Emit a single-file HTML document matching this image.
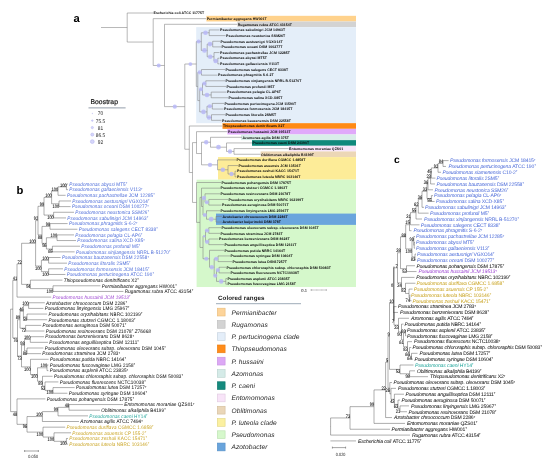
<!DOCTYPE html>
<html><head><meta charset="utf-8"><title>Phylogeny</title>
<style>html,body{margin:0;padding:0;background:#fff}svg{display:block;text-rendering:geometricPrecision;will-change:transform}</style></head><body>
<svg width="550" height="461" viewBox="0 0 550 461" font-family="Liberation Sans, sans-serif">
<rect width="550" height="461" fill="#fff"/>
<rect x="206.4" y="15.82" width="149.6" height="5.65" fill="#ffd28c"/>
<rect x="237.4" y="21.48" width="118.6" height="5.65" fill="#d3d3d3"/>
<rect x="196.2" y="27.13" width="159.8" height="96.05" fill="#e4eef9"/>
<rect x="222.5" y="123.17" width="133.5" height="5.65" fill="#ff8a14"/>
<rect x="227.4" y="128.83" width="128.6" height="5.65" fill="#e0a9fa"/>
<rect x="241" y="134.48" width="115" height="5.65" fill="#d9edea"/>
<rect x="252" y="140.13" width="104" height="5.65" fill="#10897c"/>
<rect x="288.6" y="145.78" width="67.4" height="5.65" fill="#f9e6f9"/>
<rect x="260.6" y="151.43" width="95.4" height="5.65" fill="#ecd7b6"/>
<rect x="218" y="157.08" width="138" height="22.6" fill="#fdec98"/>
<rect x="196.6" y="179.68" width="159.4" height="107.35" fill="#d5f8cb"/>
<rect x="216" y="213.58" width="140" height="11.3" fill="#6aa5dd"/>
<path d="M127.2 13L127.2 42.06M127.2 13L153 13M127.2 42.06L153.2 42.06M153.2 18.65L153.2 65.47M153.2 18.65L206.2 18.65M153.2 65.47L164.5 65.47M164.5 24.3L164.5 106.64M164.5 24.3L237.2 24.3M164.5 106.64L184.8 106.64M184.8 64.03L184.8 149.26M184.8 64.03L196.3 64.03M196.3 41.6L196.3 86.45M196.3 41.6L201.3 41.6M201.3 32.78L201.3 50.43M201.3 32.78L209.2 32.78M209.2 29.95L209.2 35.6M209.2 29.95L219.5 29.95M209.2 35.6L225.5 35.6M201.3 50.43L207.2 50.43M207.2 44.08L207.2 56.79M207.2 44.08L212.7 44.08M212.7 41.25L212.7 46.9M212.7 41.25L220 41.25M212.7 46.9L221 46.9M207.2 56.79L214 56.79M214 52.55L214 61.03M214 52.55L219.5 52.55M214 61.03L217.8 61.03M217.8 58.2L217.8 63.85M217.8 58.2L219.5 58.2M217.8 63.85L219.5 63.85M196.3 86.45L197.8 86.45M197.8 72.33L197.8 100.58M197.8 72.33L201.5 72.33M201.5 69.5L201.5 75.15M201.5 69.5L225 69.5M201.5 75.15L217.5 75.15M197.8 100.58L199.7 100.58M199.7 89.28L199.7 111.88M199.7 89.28L202.5 89.28M202.5 83.62L202.5 94.93M202.5 83.62L205.8 83.62M205.8 80.8L205.8 86.45M205.8 80.8L225 80.8M205.8 86.45L226 86.45M202.5 94.93L211.2 94.93M211.2 92.1L211.2 97.75M211.2 92.1L226.5 92.1M211.2 97.75L228 97.75M199.7 111.88L207 111.88M207 106.23L207 117.53M207 106.23L212.3 106.23M212.3 103.4L212.3 109.05M212.3 103.4L224 103.4M212.3 109.05L223.5 109.05M207 117.53L211.5 117.53M211.5 114.7L211.5 120.35M211.5 114.7L225 114.7M211.5 120.35L221.5 120.35M184.8 149.26L189.3 149.26M189.3 126L189.3 172.52M189.3 126L222.5 126M189.3 172.52L192.5 172.52M192.5 142.6L192.5 202.45M192.5 142.6L196.5 142.6M196.5 131.65L196.5 153.54M196.5 131.65L227.5 131.65M196.5 153.54L201.5 153.54M201.5 142.24L201.5 164.84M201.5 142.24L210.5 142.24M210.5 137.3L210.5 147.19M210.5 137.3L242 137.3M210.5 147.19L226.5 147.19M226.5 142.95L226.5 151.43M226.5 142.95L252 142.95M226.5 151.43L234 151.43M234 148.6L234 154.25M234 148.6L288.6 148.6M234 154.25L260.6 154.25M201.5 164.84L217.5 164.84M217.5 159.9L217.5 169.79M217.5 159.9L236 159.9M217.5 169.79L228 169.79M228 165.55L228 174.03M228 165.55L238 165.55M228 174.03L235 174.03M235 171.2L235 176.85M235 171.2L236.5 171.2M235 176.85L236.5 176.85M192.5 202.45L196.5 202.45M196.5 182.5L196.5 222.4M196.5 182.5L221 182.5M196.5 222.4L200 222.4M200 197.33L200 247.47M200 197.33L201.5 197.33M201.5 188.15L201.5 206.51M201.5 188.15L220 188.15M201.5 206.51L203 206.51M203 198.04L203 214.99M203 198.04L205 198.04M205 193.8L205 202.28M205 193.8L220 193.8M205 202.28L208.8 202.28M208.8 199.45L208.8 205.1M208.8 199.45L228 199.45M208.8 205.1L221.5 205.1M203 214.99L206.5 214.99M206.5 210.75L206.5 219.23M206.5 210.75L220 210.75M206.5 219.23L216 219.23M216 216.4L216 222.05M216 216.4L222 216.4M216 222.05L222 222.05M200 247.47L203 247.47M203 236.18L203 258.77M203 236.18L205.5 236.18M205.5 230.53L205.5 241.82M205.5 230.53L208.8 230.53M208.8 227.7L208.8 233.35M208.8 227.7L221 227.7M208.8 233.35L220 233.35M205.5 241.82L208.8 241.82M208.8 239L208.8 244.65M208.8 239L218.5 239M208.8 244.65L224 244.65M203 258.77L209.5 258.77M209.5 250.3L209.5 267.25M209.5 250.3L224 250.3M209.5 267.25L214.2 267.25M214.2 258.78L214.2 275.73M214.2 258.78L218 258.78M218 255.95L218 261.6M218 255.95L230 255.95M218 261.6L232 261.6M214.2 275.73L216.5 275.73M216.5 270.08L216.5 281.38M216.5 270.08L219 270.08M219 267.25L219 272.9M219 267.25L226 267.25M219 272.9L230 272.9M216.5 281.38L225.8 281.38M225.8 278.55L225.8 284.2M225.8 278.55L227 278.55M225.8 284.2L227 284.2M101 27.53L127.2 27.53" fill="none" stroke="#7c7c7c" stroke-width="0.55"/>
<g fill="#b9b9f7" fill-opacity="0.85">
<circle cx="205.5" cy="32.78" r="2.3"/>
<circle cx="210" cy="44.08" r="2.3"/>
<circle cx="215.6" cy="61.03" r="2.3"/>
<circle cx="210.2" cy="56.79" r="2.3"/>
<circle cx="204.5" cy="50.43" r="2.4"/>
<circle cx="198.6" cy="41.6" r="2"/>
<circle cx="199.8" cy="72.33" r="2.1"/>
<circle cx="204.3" cy="83.62" r="2"/>
<circle cx="207" cy="94.93" r="2.3"/>
<circle cx="201" cy="89.28" r="2"/>
<circle cx="209.8" cy="106.23" r="2.1"/>
<circle cx="209" cy="117.53" r="2.2"/>
<circle cx="203.5" cy="111.88" r="2.3"/>
<circle cx="190.4" cy="64.03" r="1.9"/>
<circle cx="230" cy="151.43" r="2.2"/>
<circle cx="218.5" cy="147.19" r="2.4"/>
<circle cx="206.2" cy="142.24" r="2.2"/>
<circle cx="231.5" cy="174.03" r="2.2"/>
<circle cx="222.8" cy="169.79" r="2.3"/>
<circle cx="210" cy="164.84" r="2.2"/>
<circle cx="206.8" cy="202.28" r="2"/>
<circle cx="204" cy="198.04" r="2.2"/>
<circle cx="211.2" cy="219.23" r="2.4"/>
<circle cx="204.8" cy="214.99" r="2.1"/>
<circle cx="207" cy="230.53" r="2.1"/>
<circle cx="207" cy="241.82" r="2.1"/>
<circle cx="204.2" cy="236.18" r="1.2"/>
<circle cx="216.2" cy="258.78" r="2.1"/>
<circle cx="217.8" cy="270.08" r="2.1"/>
<circle cx="221.2" cy="281.38" r="2.3"/>
<circle cx="215.3" cy="275.73" r="2.1"/>
<circle cx="211.8" cy="267.25" r="2.2"/>
<circle cx="206.3" cy="258.77" r="2.1"/>
<circle cx="174.8" cy="106.64" r="2.1"/>
<circle cx="158.7" cy="65.47" r="2"/>
</g>
<g font-weight="bold" fill="#0a0a0a">
<text transform="translate(153.5 14.25) scale(0.01 0.01)" font-size="358">Escherichia coli ATCC 11775T</text>
<text transform="translate(206.7 19.9) scale(0.01 0.01)" font-size="358">Permianibacter aggregans HW001T</text>
<text transform="translate(237.7 25.55) scale(0.01 0.01)" font-size="358">Rugamonas rubra ATCC 43154T</text>
<text transform="translate(220 31.2) scale(0.01 0.01)" font-size="358">Pseudomonas sabulinigri JCM 14963T</text>
<text transform="translate(226 36.85) scale(0.01 0.01)" font-size="358">Pseudomonas neustonica SSM26T</text>
<text transform="translate(220.5 42.5) scale(0.01 0.01)" font-size="358">Pseudomonas aestusnigri VGXO14T</text>
<text transform="translate(221.5 48.15) scale(0.01 0.01)" font-size="358">Pseudomonas oceani DSM 100277T</text>
<text transform="translate(220 53.8) scale(0.01 0.01)" font-size="358">Pseudomonas pachastrellae JCM 12285T</text>
<text transform="translate(220 59.45) scale(0.01 0.01)" font-size="358">Pseudomonas abyssi MT5T</text>
<text transform="translate(220 65.1) scale(0.01 0.01)" font-size="358">Pseudomonas gallaeciensis V113T</text>
<text transform="translate(225.5 70.75) scale(0.01 0.01)" font-size="358">Pseudomonas salegens CECT 8338T</text>
<text transform="translate(218 76.4) scale(0.01 0.01)" font-size="358">Pseudomonas phragmitis S-6-2T</text>
<text transform="translate(225.5 82.05) scale(0.01 0.01)" font-size="358">Pseudomonas xinjiangensis NRRL B-51270T</text>
<text transform="translate(226.5 87.7) scale(0.01 0.01)" font-size="358">Pseudomonas profundi M5T</text>
<text transform="translate(227 93.35) scale(0.01 0.01)" font-size="358">Pseudomonas pelagia CL-AP6T</text>
<text transform="translate(228.5 99) scale(0.01 0.01)" font-size="358">Pseudomonas salina XCD-X85T</text>
<text transform="translate(224.5 104.65) scale(0.01 0.01)" font-size="358">Pseudomonas pertucinogena JCM 11590T</text>
<text transform="translate(224 110.3) scale(0.01 0.01)" font-size="358">Pseudomonas formosensis JCM 18415T</text>
<text transform="translate(225.5 115.95) scale(0.01 0.01)" font-size="358">Pseudomonas litoralis 2SM5T</text>
<text transform="translate(222 121.6) scale(0.01 0.01)" font-size="358">Pseudomonas bauzanensis DSM 22558T</text>
<text transform="translate(223 127.25) scale(0.01 0.01)" font-size="358">Thiopseudomonas denitrificans X2T</text>
<text transform="translate(228 132.9) scale(0.01 0.01)" font-size="358">Pseudomonas hussainii JCM 19513T</text>
<text transform="translate(242.5 138.55) scale(0.01 0.01)" font-size="358">Azomonas agilis DSM 375T</text>
<text transform="translate(252.5 144.2) scale(0.01 0.01)" font-size="358">Pseudomonas caeni DSM 24390T</text>
<text transform="translate(289.1 149.85) scale(0.01 0.01)" font-size="358">Entomomonas moraniae QZS01</text>
<text transform="translate(261.1 155.5) scale(0.01 0.01)" font-size="358">Oblitimonas alkaliphila B4199T</text>
<text transform="translate(236.5 161.15) scale(0.01 0.01)" font-size="358">Pseudomonas duriflava CGMCC 1.6858T</text>
<text transform="translate(238.5 166.8) scale(0.01 0.01)" font-size="358">Pseudomonas asuensis JCM 13501T</text>
<text transform="translate(237 172.45) scale(0.01 0.01)" font-size="358">Pseudomonas zeshuii KACC 15471T</text>
<text transform="translate(237 178.1) scale(0.01 0.01)" font-size="358">Pseudomonas luteola NBRC 103146T</text>
<text transform="translate(221.5 183.75) scale(0.01 0.01)" font-size="358">Pseudomonas pohangensis DSM 17875T</text>
<text transform="translate(220.5 189.4) scale(0.01 0.01)" font-size="358">Pseudomonas stutzeri CGMCC 1.1803T</text>
<text transform="translate(220.5 195.05) scale(0.01 0.01)" font-size="358">Pseudomonas resinovorans DSM 21078T</text>
<text transform="translate(228.5 200.7) scale(0.01 0.01)" font-size="358">Pseudomonas oryzihabitans NBRC 102199T</text>
<text transform="translate(222 206.35) scale(0.01 0.01)" font-size="358">Pseudomonas aeruginosa DSM 50071T</text>
<text transform="translate(220.5 212) scale(0.01 0.01)" font-size="358">Pseudomonas linyingensis LMG 25967T</text>
<text transform="translate(222.5 217.65) scale(0.01 0.01)" font-size="358">Azotobacter chroococcum DSM 2286T</text>
<text transform="translate(222.5 223.3) scale(0.01 0.01)" font-size="358">Azotobacter beijerinckii DSM 378T</text>
<text transform="translate(221.5 228.95) scale(0.01 0.01)" font-size="358">Pseudomonas oleovorans subsp. oleovorans DSM 1045T</text>
<text transform="translate(220.5 234.6) scale(0.01 0.01)" font-size="358">Pseudomonas straminea JCM 2783T</text>
<text transform="translate(219 240.25) scale(0.01 0.01)" font-size="358">Pseudomonas benzenivorans DSM 8628T</text>
<text transform="translate(224.5 245.9) scale(0.01 0.01)" font-size="358">Pseudomonas anguilliseptica DSM 12111T</text>
<text transform="translate(224.5 251.55) scale(0.01 0.01)" font-size="358">Pseudomonas putida NBRC 14164T</text>
<text transform="translate(230.5 257.2) scale(0.01 0.01)" font-size="358">Pseudomonas syringae DSM 10604T</text>
<text transform="translate(232.5 262.85) scale(0.01 0.01)" font-size="358">Pseudomonas lutea DSN17257T</text>
<text transform="translate(226.5 268.5) scale(0.01 0.01)" font-size="358">Pseudomonas chlororaphis subsp. chlororaphis DSM 50083T</text>
<text transform="translate(230.5 274.15) scale(0.01 0.01)" font-size="358">Pseudomonas fluorescens NCTC10038T</text>
<text transform="translate(227.5 279.8) scale(0.01 0.01)" font-size="358">Pseudomonas asplenii ATCC 23835T</text>
<text transform="translate(227.5 285.45) scale(0.01 0.01)" font-size="358">Pseudomonas fuscovaginae LMG 2158T</text>
</g>
<text transform="translate(73.6 22.4) scale(0.01 0.01)" font-size="1150" font-weight="bold" fill="#000">a</text>
<text transform="translate(301.3 291.5) scale(0.01 0.01)" font-size="470" fill="#333" stroke="#333" stroke-width="6" font-family="Liberation Serif, serif">0.1</text>
<path d="M311 290H326.4" stroke="#555" stroke-width="0.5" stroke-dasharray="0.9 0.35"/><path d="M311.1 289.2V290.8M326.3 289.2V290.8" stroke="#555" stroke-width="0.4"/>
<text transform="translate(90.4 104.4) scale(0.01 0.01)" font-size="690" fill="#111" stroke="#111" stroke-width="18">Boostrap</text>
<path d="M88.5 107.9H125.6" stroke="#4a5b6e" stroke-width="0.6"/>
<g fill="#1a1a1a">
<circle cx="92.3" cy="113.5" r="0.3" fill="#d6d6fa" stroke="#a4a4ec" stroke-width="0.4"/>
<text transform="translate(100.5 115.45) scale(0.0088 0.01)" font-size="550" text-anchor="middle">70</text>
<circle cx="92.3" cy="120.6" r="0.8" fill="#d6d6fa" stroke="#a4a4ec" stroke-width="0.4"/>
<text transform="translate(100.5 122.55) scale(0.0088 0.01)" font-size="550" text-anchor="middle">75.5</text>
<circle cx="92.3" cy="127.6" r="1.15" fill="#d6d6fa" stroke="#a4a4ec" stroke-width="0.4"/>
<text transform="translate(100.5 129.55) scale(0.0088 0.01)" font-size="550" text-anchor="middle">81</text>
<circle cx="92.3" cy="134.6" r="1.55" fill="#d6d6fa" stroke="#a4a4ec" stroke-width="0.4"/>
<text transform="translate(100.5 136.55) scale(0.0088 0.01)" font-size="550" text-anchor="middle">86.5</text>
<circle cx="92.3" cy="141.6" r="1.95" fill="#d6d6fa" stroke="#a4a4ec" stroke-width="0.4"/>
<text transform="translate(100.5 143.55) scale(0.0088 0.01)" font-size="550" text-anchor="middle">92</text>
</g>
<text transform="translate(218 299.6) scale(0.01 0.01)" font-size="635" font-weight="bold" fill="#1a1a1a">Colored ranges</text>
<path d="M216 303.7H301" stroke="#8495a4" stroke-width="0.8"/>
<g font-style="italic" fill="#262626">
<rect x="217.3" y="308.2" width="7.8" height="7.8" fill="#fdd49a" stroke="#e9bb78" stroke-width="0.6"/>
<text transform="translate(231.4 314.5) scale(0.01 0.01)" font-size="675">Permianibacter</text>
<rect x="217.3" y="320.46" width="7.8" height="7.8" fill="#d3d3d3" stroke="#bdbdbd" stroke-width="0.6"/>
<text transform="translate(231.4 326.76) scale(0.01 0.01)" font-size="675">Rugamonas</text>
<rect x="217.3" y="332.72" width="7.8" height="7.8" fill="#e4eef9" stroke="#c4d0dc" stroke-width="0.6"/>
<text transform="translate(231.4 339.02) scale(0.01 0.01)" font-size="675">P. pertucinogena clade</text>
<rect x="217.3" y="344.98" width="7.8" height="7.8" fill="#ff8c1a" stroke="#e97c10" stroke-width="0.6"/>
<text transform="translate(231.4 351.28) scale(0.01 0.01)" font-size="675">Thiopseudomonas</text>
<rect x="217.3" y="357.24" width="7.8" height="7.8" fill="#dca8f5" stroke="#c792e2" stroke-width="0.6"/>
<text transform="translate(231.4 363.54) scale(0.01 0.01)" font-size="675">P. hussaini</text>
<rect x="217.3" y="369.5" width="7.8" height="7.8" fill="#d5ebe8" stroke="#b9d2ce" stroke-width="0.6"/>
<text transform="translate(231.4 375.8) scale(0.01 0.01)" font-size="675">Azomonas</text>
<rect x="217.3" y="381.76" width="7.8" height="7.8" fill="#158a7e" stroke="#0f776c" stroke-width="0.6"/>
<text transform="translate(231.4 388.06) scale(0.01 0.01)" font-size="675">P. caeni</text>
<rect x="217.3" y="394.02" width="7.8" height="7.8" fill="#f8e4f8" stroke="#dfc9df" stroke-width="0.6"/>
<text transform="translate(231.4 400.32) scale(0.01 0.01)" font-size="675">Entomomonas</text>
<rect x="217.3" y="406.28" width="7.8" height="7.8" fill="#ead6b8" stroke="#d3bd9b" stroke-width="0.6"/>
<text transform="translate(231.4 412.58) scale(0.01 0.01)" font-size="675">Oblitimonas</text>
<rect x="217.3" y="418.54" width="7.8" height="7.8" fill="#fbf0a0" stroke="#e2d682" stroke-width="0.6"/>
<text transform="translate(231.4 424.84) scale(0.01 0.01)" font-size="675">P. luteola clade</text>
<rect x="217.3" y="430.8" width="7.8" height="7.8" fill="#d6f8cc" stroke="#bbdfb0" stroke-width="0.6"/>
<text transform="translate(231.4 437.1) scale(0.01 0.01)" font-size="675">Pseudomonas</text>
<rect x="217.3" y="443.06" width="7.8" height="7.8" fill="#69a4dc" stroke="#558fc7" stroke-width="0.6"/>
<text transform="translate(231.4 449.36) scale(0.01 0.01)" font-size="675">Azotobacter</text>
</g>
<path d="M10.6 309.17L10.6 411.61M10.6 309.17L12.8 309.17M12.8 280.47L12.8 337.88M12.8 280.47L17 280.47M17 263.83L17 297.1M17 263.83L21.6 263.83M21.6 243.29L21.6 284.38M21.6 243.29L35.6 243.29M35.6 220.58L35.6 266M35.6 220.58L38 220.58M38 206.27L38 234.9M38 206.27L44 206.27M44 197.43L44 215.1M44 197.43L51.6 197.43M51.6 191.07L51.6 203.79M51.6 191.07L58 191.07M58 186.83L58 195.31M58 186.83L66.4 186.83M66.4 184L66.4 189.66M66.4 184L68 184M66.4 189.66L68 189.66M58 195.31L65.6 195.31M51.6 203.79L59 203.79M59 200.97L59 206.62M59 200.97L71 200.97M59 206.62L70.6 206.62M44 215.1L53.6 215.1M53.6 212.28L53.6 217.93M53.6 212.28L74 212.28M53.6 217.93L66 217.93M38 234.9L42 234.9M42 226.41L42 243.38M42 226.41L50 226.41M50 223.59L50 229.24M50 223.59L67.6 223.59M50 229.24L77.4 229.24M42 243.38L46.4 243.38M46.4 237.72L46.4 249.03M46.4 237.72L57 237.72M57 234.9L57 240.55M57 234.9L74 234.9M57 240.55L76 240.55M46.4 249.03L52.4 249.03M52.4 246.21L52.4 251.86M52.4 246.21L80 246.21M52.4 251.86L74.6 251.86M35.6 266L41.4 266M41.4 260.34L41.4 271.65M41.4 260.34L48.6 260.34M48.6 257.51L48.6 263.17M48.6 257.51L60.6 257.51M48.6 263.17L67 263.17M41.4 271.65L48.6 271.65M48.6 268.82L48.6 274.48M48.6 268.82L63 268.82M48.6 274.48L65.4 274.48M21.6 284.38L30.4 284.38M30.4 280.13L30.4 288.62M30.4 280.13L62.4 280.13M30.4 288.62L53 288.62M53 285.79L53 291.44M53 285.79L100.4 285.79M53 291.44L123.4 291.44M17 297.1L51.2 297.1M12.8 337.88L17.5 337.88M17.5 319.72L17.5 356.04M17.5 319.72L20 319.72M20 311.24L20 328.2M20 311.24L23.4 311.24M23.4 305.58L23.4 316.89M23.4 305.58L28.6 305.58M28.6 302.75L28.6 308.41M28.6 302.75L44.8 302.75M28.6 308.41L43.4 308.41M23.4 316.89L27 316.89M27 314.06L27 319.72M27 314.06L47.2 314.06M27 319.72L47.2 319.72M20 328.2L25.6 328.2M25.6 325.38L25.6 331.03M25.6 325.38L41.2 325.38M25.6 331.03L44.4 331.03M17.5 356.04L21.5 356.04M21.5 345.17L21.5 366.9M21.5 345.17L24.5 345.17M24.5 339.51L24.5 350.82M24.5 339.51L30.3 339.51M30.3 336.69L30.3 342.34M30.3 336.69L44 336.69M30.3 342.34L48 342.34M24.5 350.82L27 350.82M27 348L27 353.65M27 348L43.4 348M27 353.65L41 353.65M21.5 366.9L30.5 366.9M30.5 359.31L30.5 374.5M30.5 359.31L48.6 359.31M30.5 374.5L37.5 374.5M37.5 367.79L37.5 381.22M37.5 367.79L47 367.79M47 364.96L47 370.62M47 364.96L48.4 364.96M47 370.62L48.4 370.62M37.5 381.22L42.5 381.22M42.5 376.27L42.5 386.17M42.5 376.27L52.6 376.27M42.5 386.17L45 386.17M45 381.93L45 390.41M45 381.93L58.4 381.93M45 390.41L53 390.41M53 387.58L53 393.24M53 387.58L74.6 387.58M53 393.24L67.4 393.24M10.6 411.61L17 411.61M17 398.89L17 424.34M17 398.89L45.4 398.89M17 424.34L27 424.34M27 416.56L27 432.11M27 416.56L42.4 416.56M42.4 411.61L42.4 421.51M42.4 411.61L58 411.61M58 407.37L58 415.86M58 407.37L69 407.37M69 404.55L69 410.2M69 404.55L123 404.55M69 410.2L100 410.2M58 415.86L88 415.86M42.4 421.51L79 421.51M27 432.11L43 432.11M43 427.17L43 437.06M43 427.17L65.2 427.17M43 437.06L54 437.06M54 432.82L54 441.3M54 432.82L71 432.82M54 441.3L66.4 441.3M66.4 438.48L66.4 444.13M66.4 438.48L68 438.48M66.4 444.13L68 444.13" fill="none" stroke="#333" stroke-width="0.4"/>
<g fill="#000" stroke="#000" stroke-width="5">
<text transform="translate(66.55 186.53) scale(0.0077 0.01)" font-size="510" text-anchor="end">100</text>
<text transform="translate(58.15 190.77) scale(0.0077 0.01)" font-size="510" text-anchor="end">100</text>
<text transform="translate(59.15 207.69) scale(0.0077 0.01)" font-size="510" text-anchor="end">100</text>
<text transform="translate(51.75 197.13) scale(0.0077 0.01)" font-size="510" text-anchor="end">100</text>
<text transform="translate(53.75 219) scale(0.0077 0.01)" font-size="510" text-anchor="end">100</text>
<text transform="translate(44.15 205.97) scale(0.0077 0.01)" font-size="510" text-anchor="end">99</text>
<text transform="translate(50.15 226.11) scale(0.0077 0.01)" font-size="510" text-anchor="end">98</text>
<text transform="translate(57.15 237.42) scale(0.0077 0.01)" font-size="510" text-anchor="end">100</text>
<text transform="translate(52.55 252.93) scale(0.0077 0.01)" font-size="510" text-anchor="end">65</text>
<text transform="translate(46.55 247.28) scale(0.0077 0.01)" font-size="510" text-anchor="end">96</text>
<text transform="translate(42.15 238.8) scale(0.0077 0.01)" font-size="510" text-anchor="end">88</text>
<text transform="translate(38.15 220.28) scale(0.0077 0.01)" font-size="510" text-anchor="end">92</text>
<text transform="translate(48.75 260.04) scale(0.0077 0.01)" font-size="510" text-anchor="end">100</text>
<text transform="translate(48.75 275.55) scale(0.0077 0.01)" font-size="510" text-anchor="end">100</text>
<text transform="translate(41.55 269.9) scale(0.0077 0.01)" font-size="510" text-anchor="end">100</text>
<text transform="translate(35.75 242.99) scale(0.0077 0.01)" font-size="510" text-anchor="end">100</text>
<text transform="translate(53.15 292.52) scale(0.0077 0.01)" font-size="510" text-anchor="end">100</text>
<text transform="translate(30.55 288.28) scale(0.0077 0.01)" font-size="510" text-anchor="end">94</text>
<text transform="translate(21.75 263.53) scale(0.0077 0.01)" font-size="510" text-anchor="end">72</text>
<text transform="translate(17.15 280.17) scale(0.0077 0.01)" font-size="510" text-anchor="end">41</text>
<text transform="translate(28.75 305.28) scale(0.0077 0.01)" font-size="510" text-anchor="end">100</text>
<text transform="translate(27.15 320.79) scale(0.0077 0.01)" font-size="510" text-anchor="end">59</text>
<text transform="translate(23.55 310.94) scale(0.0077 0.01)" font-size="510" text-anchor="end">46</text>
<text transform="translate(25.75 332.1) scale(0.0077 0.01)" font-size="510" text-anchor="end">72</text>
<text transform="translate(20.15 319.42) scale(0.0077 0.01)" font-size="510" text-anchor="end">89</text>
<text transform="translate(30.45 339.21) scale(0.0077 0.01)" font-size="510" text-anchor="end">100</text>
<text transform="translate(27.15 354.72) scale(0.0077 0.01)" font-size="510" text-anchor="end">86</text>
<text transform="translate(24.65 344.87) scale(0.0077 0.01)" font-size="510" text-anchor="end">98</text>
<text transform="translate(47.15 367.49) scale(0.0077 0.01)" font-size="510" text-anchor="end">100</text>
<text transform="translate(53.15 394.31) scale(0.0077 0.01)" font-size="510" text-anchor="end">100</text>
<text transform="translate(45.15 390.07) scale(0.0077 0.01)" font-size="510" text-anchor="end">53</text>
<text transform="translate(42.65 385.12) scale(0.0077 0.01)" font-size="510" text-anchor="end">89</text>
<text transform="translate(37.65 378.4) scale(0.0077 0.01)" font-size="510" text-anchor="end">100</text>
<text transform="translate(30.65 370.8) scale(0.0077 0.01)" font-size="510" text-anchor="end">100</text>
<text transform="translate(21.65 359.94) scale(0.0077 0.01)" font-size="510" text-anchor="end">73</text>
<text transform="translate(17.65 341.78) scale(0.0077 0.01)" font-size="510" text-anchor="end">76</text>
<text transform="translate(69.15 407.07) scale(0.0077 0.01)" font-size="510" text-anchor="end">48</text>
<text transform="translate(58.15 411.31) scale(0.0077 0.01)" font-size="510" text-anchor="end">99</text>
<text transform="translate(42.55 416.26) scale(0.0077 0.01)" font-size="510" text-anchor="end">100</text>
<text transform="translate(66.55 445.2) scale(0.0077 0.01)" font-size="510" text-anchor="end">100</text>
<text transform="translate(54.15 440.96) scale(0.0077 0.01)" font-size="510" text-anchor="end">100</text>
<text transform="translate(43.15 436.01) scale(0.0077 0.01)" font-size="510" text-anchor="end">100</text>
<text transform="translate(27.15 428.24) scale(0.0077 0.01)" font-size="510" text-anchor="end">96</text>
<text transform="translate(17.15 415.51) scale(0.0077 0.01)" font-size="510" text-anchor="end">48</text>
</g>
<g stroke-width="0">
<text transform="translate(69.3 185.8) scale(0.00927 0.01)" font-size="517" fill="#4868d8"><tspan font-style="italic">Pseudomonas abyssi </tspan>MT5<tspan dy="-180" font-size="290">T</tspan></text>
<text transform="translate(69.3 191.46) scale(0.00927 0.01)" font-size="517" fill="#4868d8"><tspan font-style="italic">Pseudomonas gallaeciensis </tspan>V113<tspan dy="-180" font-size="290">T</tspan></text>
<text transform="translate(66.9 197.11) scale(0.00927 0.01)" font-size="517" fill="#4868d8"><tspan font-style="italic">Pseudomonas pachastrellae </tspan>JCM 12285<tspan dy="-180" font-size="290">T</tspan></text>
<text transform="translate(72.3 202.77) scale(0.00927 0.01)" font-size="517" fill="#4868d8"><tspan font-style="italic">Pseudomonas aestusnigri </tspan>VGXO14<tspan dy="-180" font-size="290">T</tspan></text>
<text transform="translate(71.9 208.42) scale(0.00927 0.01)" font-size="517" fill="#4868d8"><tspan font-style="italic">Pseudomonas oceani </tspan>DSM 100277<tspan dy="-180" font-size="290">T</tspan></text>
<text transform="translate(75.3 214.08) scale(0.00927 0.01)" font-size="517" fill="#4868d8"><tspan font-style="italic">Pseudomonas neustonica </tspan>SSM26<tspan dy="-180" font-size="290">T</tspan></text>
<text transform="translate(67.3 219.73) scale(0.00927 0.01)" font-size="517" fill="#4868d8"><tspan font-style="italic">Pseudomonas sabulinigri </tspan>JCM 14963<tspan dy="-180" font-size="290">T</tspan></text>
<text transform="translate(68.9 225.39) scale(0.00927 0.01)" font-size="517" fill="#4868d8"><tspan font-style="italic">Pseudomonas phragmitis </tspan>S-6-2<tspan dy="-180" font-size="290">T</tspan></text>
<text transform="translate(78.7 231.04) scale(0.00927 0.01)" font-size="517" fill="#4868d8"><tspan font-style="italic">Pseudomonas salegens </tspan>CECT 8338<tspan dy="-180" font-size="290">T</tspan></text>
<text transform="translate(75.3 236.7) scale(0.00927 0.01)" font-size="517" fill="#4868d8"><tspan font-style="italic">Pseudomonas pelagia </tspan>CL-AP6<tspan dy="-180" font-size="290">T</tspan></text>
<text transform="translate(77.3 242.35) scale(0.00927 0.01)" font-size="517" fill="#4868d8"><tspan font-style="italic">Pseudomonas salina </tspan>XCD-X85<tspan dy="-180" font-size="290">T</tspan></text>
<text transform="translate(81.3 248.01) scale(0.00927 0.01)" font-size="517" fill="#4868d8"><tspan font-style="italic">Pseudomonas profundi </tspan>M5<tspan dy="-180" font-size="290">T</tspan></text>
<text transform="translate(75.9 253.66) scale(0.00927 0.01)" font-size="517" fill="#4868d8"><tspan font-style="italic">Pseudomonas xinjiangensis </tspan>NRRL B-51270<tspan dy="-180" font-size="290">T</tspan></text>
<text transform="translate(61.9 259.31) scale(0.00927 0.01)" font-size="517" fill="#4868d8"><tspan font-style="italic">Pseudomonas bauzanensis </tspan>DSM 22558<tspan dy="-180" font-size="290">T</tspan></text>
<text transform="translate(68.3 264.97) scale(0.00927 0.01)" font-size="517" fill="#4868d8"><tspan font-style="italic">Pseudomonas litoralis </tspan>2SM5<tspan dy="-180" font-size="290">T</tspan></text>
<text transform="translate(64.3 270.62) scale(0.00927 0.01)" font-size="517" fill="#4868d8"><tspan font-style="italic">Pseudomonas formosensis </tspan>JCM 18415<tspan dy="-180" font-size="290">T</tspan></text>
<text transform="translate(66.7 276.28) scale(0.00927 0.01)" font-size="517" fill="#4868d8"><tspan font-style="italic">Pseudomonas pertucinogena </tspan>ATCC 190<tspan dy="-180" font-size="290">T</tspan></text>
<text transform="translate(63.7 281.94) scale(0.00927 0.01)" font-size="517" fill="#111" stroke="#111" stroke-width="3"><tspan font-style="italic">Thiopseudomonas denitrificans </tspan>X2<tspan dy="-180" font-size="290">T</tspan></text>
<text transform="translate(101.7 287.59) scale(0.00927 0.01)" font-size="517" fill="#111" stroke="#111" stroke-width="3"><tspan font-style="italic">Permianibacter aggregans </tspan>HW001<tspan dy="-180" font-size="290">T</tspan></text>
<text transform="translate(124.7 293.25) scale(0.00927 0.01)" font-size="517" fill="#111" stroke="#111" stroke-width="3"><tspan font-style="italic">Rugamonas rubra </tspan>ATCC 43154<tspan dy="-180" font-size="290">T</tspan></text>
<text transform="translate(52.5 298.9) scale(0.00927 0.01)" font-size="517" fill="#9a3fd0"><tspan font-style="italic">Pseudomonas hussainii </tspan><tspan font-style="italic">JCM 19513</tspan><tspan dy="-180" font-size="290">T</tspan></text>
<text transform="translate(46.1 304.56) scale(0.00927 0.01)" font-size="517" fill="#111" stroke="#111" stroke-width="3"><tspan font-style="italic">Azotobacter chroococcum </tspan>DSM 2286<tspan dy="-180" font-size="290">T</tspan></text>
<text transform="translate(44.7 310.21) scale(0.00927 0.01)" font-size="517" fill="#111" stroke="#111" stroke-width="3"><tspan font-style="italic">Pseudomonas linyingensis </tspan>LMG 25967<tspan dy="-180" font-size="290">T</tspan></text>
<text transform="translate(48.5 315.87) scale(0.00927 0.01)" font-size="517" fill="#111" stroke="#111" stroke-width="3"><tspan font-style="italic">Pseudomonas oryzihabitans </tspan>NBRC 102199<tspan dy="-180" font-size="290">T</tspan></text>
<text transform="translate(48.5 321.52) scale(0.00927 0.01)" font-size="517" fill="#111" stroke="#111" stroke-width="3"><tspan font-style="italic">Pseudomonas stutzeri </tspan>CGMCC 1.18003<tspan dy="-180" font-size="290">T</tspan></text>
<text transform="translate(42.5 327.18) scale(0.00927 0.01)" font-size="517" fill="#111" stroke="#111" stroke-width="3"><tspan font-style="italic">Pseudomonas aeruginosa </tspan>DSM 50071<tspan dy="-180" font-size="290">T</tspan></text>
<text transform="translate(45.7 332.83) scale(0.00927 0.01)" font-size="517" fill="#111" stroke="#111" stroke-width="3"><tspan font-style="italic">Pseudomonas resinovorans </tspan>DSM 21078<tspan dy="-180" font-size="290">T</tspan><tspan dy="180" font-style="italic"> Z76668</tspan></text>
<text transform="translate(45.3 338.49) scale(0.00927 0.01)" font-size="517" fill="#111" stroke="#111" stroke-width="3"><tspan font-style="italic">Pseudomonas benzenivorans </tspan>DSM 8628<tspan dy="-180" font-size="290">T</tspan></text>
<text transform="translate(49.3 344.14) scale(0.00927 0.01)" font-size="517" fill="#111" stroke="#111" stroke-width="3"><tspan font-style="italic">Pseudomonas anguilliseptica </tspan>DSM 12111<tspan dy="-180" font-size="290">T</tspan></text>
<text transform="translate(44.7 349.8) scale(0.00927 0.01)" font-size="517" fill="#111" stroke="#111" stroke-width="3"><tspan font-style="italic">Pseudomonas oleovorans </tspan>subsp. <tspan font-style="italic">oleovorans </tspan>DSM 1045<tspan dy="-180" font-size="290">T</tspan></text>
<text transform="translate(42.3 355.45) scale(0.00927 0.01)" font-size="517" fill="#111" stroke="#111" stroke-width="3"><tspan font-style="italic">Pseudomonas straminea </tspan>JCM 2783<tspan dy="-180" font-size="290">T</tspan></text>
<text transform="translate(49.9 361.11) scale(0.00927 0.01)" font-size="517" fill="#111" stroke="#111" stroke-width="3"><tspan font-style="italic">Pseudomonas putida </tspan>NBRC 14164<tspan dy="-180" font-size="290">T</tspan></text>
<text transform="translate(49.7 366.76) scale(0.00927 0.01)" font-size="517" fill="#111" stroke="#111" stroke-width="3"><tspan font-style="italic">Pseudomonas fuscovaginae </tspan>LMG 2158<tspan dy="-180" font-size="290">T</tspan></text>
<text transform="translate(49.7 372.42) scale(0.00927 0.01)" font-size="517" fill="#111" stroke="#111" stroke-width="3"><tspan font-style="italic">Pseudomonas asplenii </tspan>ATCC 23835<tspan dy="-180" font-size="290">T</tspan></text>
<text transform="translate(53.9 378.07) scale(0.00927 0.01)" font-size="517" fill="#111" stroke="#111" stroke-width="3"><tspan font-style="italic">Pseudomonas chlororaphis </tspan>subsp. <tspan font-style="italic">chlororaphis </tspan>DSM 50083<tspan dy="-180" font-size="290">T</tspan></text>
<text transform="translate(59.7 383.73) scale(0.00927 0.01)" font-size="517" fill="#111" stroke="#111" stroke-width="3"><tspan font-style="italic">Pseudomonas fluorescens </tspan>NCTC10038<tspan dy="-180" font-size="290">T</tspan></text>
<text transform="translate(75.9 389.38) scale(0.00927 0.01)" font-size="517" fill="#111" stroke="#111" stroke-width="3"><tspan font-style="italic">Pseudomonas lutea </tspan>DSM 17257<tspan dy="-180" font-size="290">T</tspan></text>
<text transform="translate(68.7 395.04) scale(0.00927 0.01)" font-size="517" fill="#111" stroke="#111" stroke-width="3"><tspan font-style="italic">Pseudomonas syringae </tspan>DSM 10604<tspan dy="-180" font-size="290">T</tspan></text>
<text transform="translate(46.7 400.69) scale(0.00927 0.01)" font-size="517" fill="#111" stroke="#111" stroke-width="3"><tspan font-style="italic">Pseudomonas pohangensis </tspan>DSM 17875<tspan dy="-180" font-size="290">T</tspan></text>
<text transform="translate(124.3 406.35) scale(0.00927 0.01)" font-size="517" fill="#111" stroke="#111" stroke-width="3"><tspan font-style="italic">Entomomonas moraniae </tspan>QZS01<tspan dy="-180" font-size="290">T</tspan></text>
<text transform="translate(101.3 412) scale(0.00927 0.01)" font-size="517" fill="#111" stroke="#111" stroke-width="3"><tspan font-style="italic">Oblitimonas alkaliphila </tspan>B4199<tspan dy="-180" font-size="290">T</tspan></text>
<text transform="translate(89.3 417.66) scale(0.00927 0.01)" font-size="517" fill="#1fa59a"><tspan font-style="italic">Pseudomonas caeni </tspan>HY14<tspan dy="-180" font-size="290">T</tspan></text>
<text transform="translate(80.3 423.31) scale(0.00927 0.01)" font-size="517" fill="#111" stroke="#111" stroke-width="3"><tspan font-style="italic">Azomonas agilis </tspan>ATCC 7494<tspan dy="-180" font-size="290">T</tspan></text>
<text transform="translate(66.5 428.97) scale(0.00927 0.01)" font-size="517" fill="#c8a21e"><tspan font-style="italic">Pseudomonas duriflava </tspan>CGMCC 1.6858<tspan dy="-180" font-size="290">T</tspan></text>
<text transform="translate(72.3 434.62) scale(0.00927 0.01)" font-size="517" fill="#c8a21e"><tspan font-style="italic">Pseudomonas asuensis </tspan>CP 155-2<tspan dy="-180" font-size="290">T</tspan></text>
<text transform="translate(69.3 440.28) scale(0.00927 0.01)" font-size="517" fill="#c8a21e"><tspan font-style="italic">Pseudomonas zeshuii </tspan>KACC 15471<tspan dy="-180" font-size="290">T</tspan></text>
<text transform="translate(69.3 445.93) scale(0.00927 0.01)" font-size="517" fill="#c8a21e"><tspan font-style="italic">Pseudomonas luteola </tspan>NBRC 103146<tspan dy="-180" font-size="290">T</tspan></text>
</g>
<text transform="translate(16.6 194) scale(0.01 0.01)" font-size="1150" font-weight="bold" fill="#000">b</text>
<path d="M24.6 451H38.4M24.6 450V452M38.4 450V452" stroke="#2a2a2a" stroke-width="0.42" fill="none"/>
<text transform="translate(33.2 457.6) scale(0.0082 0.01)" font-size="480" text-anchor="middle" fill="#111">0.050</text>
<path d="M393.9 266.5V321" stroke="#ababab" stroke-width="1.6"/>
<path d="M330.4 426.51L330.6 426.51M330.6 417.94L330.6 435.08M330.6 417.94L350 417.94M350 406.65L350 429.24M350 406.65L374 406.65M374 389.9L374 423.4M374 389.9L385.6 389.9M385.6 362.23L385.6 417.56M385.6 362.23L388 362.23M388 336.29L388 388.18M388 336.29L389.5 336.29M389.5 303.2L389.5 369.38M389.5 303.2L393.5 303.2M393.5 267.8L393.5 312.69M393.5 267.8L397.5 267.8M397.5 252.73L397.5 282.88M397.5 252.73L400.5 252.73M400.5 236.82L400.5 268.64M400.5 236.82L405.7 236.82M405.7 224.71L405.7 248.93M405.7 224.71L409.5 224.71M409.5 218.73L409.5 230.68M409.5 218.73L410.5 218.73M410.5 212.62L410.5 224.84M410.5 212.62L416 212.62M416 206.25L416 219M416 206.25L418.3 206.25M418.3 199.34L418.3 213.16M418.3 199.34L422 199.34M422 191.35L422 207.32M422 191.35L427 191.35M427 184.14L427 198.56M427 184.14L428 184.14M428 178.48L428 189.8M428 178.48L430.6 178.48M430.6 173.01L430.6 183.96M430.6 173.01L431.4 173.01M431.4 167.9L431.4 178.12M431.4 167.9L438 167.9M438 163.52L438 172.28M438 163.52L443 163.52M443 160.6L443 166.44M443 160.6L448.6 160.6M443 166.44L446 166.44M438 172.28L441 172.28M431.4 178.12L435.4 178.12M430.6 183.96L435 183.96M428 189.8L433 189.8M427 198.56L431.4 198.56M431.4 195.64L431.4 201.48M431.4 195.64L433 195.64M431.4 201.48L434.6 201.48M422 207.32L424 207.32M418.3 213.16L428.6 213.16M416 219L422 219M410.5 224.84L419.5 224.84M409.5 230.68L411.5 230.68M405.7 248.93L412 248.93M412 240.9L412 256.96M412 240.9L413.8 240.9M413.8 236.52L413.8 245.28M413.8 236.52L415 236.52M413.8 245.28L414.2 245.28M414.2 242.36L414.2 248.2M414.2 242.36L415 242.36M414.2 248.2L415 248.2M412 256.96L415 256.96M415 254.04L415 259.88M415 254.04L416 254.04M415 259.88L416 259.88M400.5 268.64L406.5 268.64M406.5 265.72L406.5 271.56M406.5 265.72L415 265.72M406.5 271.56L416.5 271.56M397.5 282.88L401.5 282.88M401.5 277.4L401.5 288.35M401.5 277.4L414.5 277.4M401.5 288.35L405.5 288.35M405.5 283.24L405.5 293.46M405.5 283.24L415.4 283.24M405.5 293.46L409 293.46M409 289.08L409 297.84M409 289.08L412.6 289.08M409 297.84L409.8 297.84M409.8 294.92L409.8 300.76M409.8 294.92L410.2 294.92M409.8 300.76L411.5 300.76M393.5 312.69L393.8 312.69M393.8 306.6L393.8 318.78M393.8 306.6L396.5 306.6M393.8 318.78L394 318.78M394 312.44L394 325.12M394 312.44L398 312.44M394 325.12L398.5 325.12M398.5 318.28L398.5 331.97M398.5 318.28L409 318.28M398.5 331.97L401.5 331.97M401.5 324.12L401.5 339.81M401.5 324.12L403.5 324.12M401.5 339.81L403.5 339.81M403.5 332.88L403.5 346.75M403.5 332.88L405.5 332.88M405.5 329.96L405.5 335.8M405.5 329.96L406.3 329.96M405.5 335.8L406.3 335.8M403.5 346.75L407.5 346.75M407.5 341.64L407.5 351.86M407.5 341.64L412 341.64M407.5 351.86L409.5 351.86M409.5 347.48L409.5 356.24M409.5 347.48L411.2 347.48M409.5 356.24L411.5 356.24M411.5 353.32L411.5 359.16M411.5 353.32L417.5 353.32M411.5 359.16L413 359.16M389.5 369.38L400 369.38M400 365L400 373.76M400 365L413.5 365M400 373.76L409.6 373.76M409.6 370.84L409.6 376.68M409.6 370.84L415 370.84M409.6 376.68L428 376.68M388 388.18L389.8 388.18M389.8 382.52L389.8 393.83M389.8 382.52L392 382.52M389.8 393.83L391 393.83M391 388.36L391 399.31M391 388.36L396 388.36M391 399.31L394.4 399.31M394.4 394.2L394.4 404.42M394.4 394.2L404 394.2M394.4 404.42L398 404.42M398 400.04L398 408.8M398 400.04L400 400.04M398 408.8L400 408.8M400 405.88L400 411.72M400 405.88L409 405.88M400 411.72L407 411.72M385.6 417.56L392 417.56M374 423.4L405 423.4M350 429.24L390 429.24M330.6 435.08L410 435.08M330.4 440.92L356 440.92" fill="none" stroke="#333" stroke-width="0.4"/>
<g fill="#000" stroke="#000" stroke-width="5">
<text transform="translate(443.15 163.22) scale(0.0077 0.01)" font-size="510" text-anchor="end">84</text>
<text transform="translate(438.15 167.6) scale(0.0077 0.01)" font-size="510" text-anchor="end">92</text>
<text transform="translate(431.55 172.71) scale(0.0077 0.01)" font-size="510" text-anchor="end">45</text>
<text transform="translate(430.75 178.18) scale(0.0077 0.01)" font-size="510" text-anchor="end">23</text>
<text transform="translate(428.15 183.84) scale(0.0077 0.01)" font-size="510" text-anchor="end">36</text>
<text transform="translate(431.55 202.46) scale(0.0077 0.01)" font-size="510" text-anchor="end">55</text>
<text transform="translate(427.15 191.05) scale(0.0077 0.01)" font-size="510" text-anchor="end">33</text>
<text transform="translate(422.15 199.04) scale(0.0077 0.01)" font-size="510" text-anchor="end">36</text>
<text transform="translate(418.45 205.95) scale(0.0077 0.01)" font-size="510" text-anchor="end">62</text>
<text transform="translate(416.15 212.32) scale(0.0077 0.01)" font-size="510" text-anchor="end">55</text>
<text transform="translate(410.65 218.43) scale(0.0077 0.01)" font-size="510" text-anchor="end">31</text>
<text transform="translate(409.65 224.41) scale(0.0077 0.01)" font-size="510" text-anchor="end">15</text>
<text transform="translate(413.95 240.6) scale(0.0077 0.01)" font-size="510" text-anchor="end">99</text>
<text transform="translate(415.15 260.86) scale(0.0077 0.01)" font-size="510" text-anchor="end">83</text>
<text transform="translate(412.15 252.83) scale(0.0077 0.01)" font-size="510" text-anchor="end">100</text>
<text transform="translate(405.85 236.52) scale(0.0077 0.01)" font-size="510" text-anchor="end">88</text>
<text transform="translate(406.65 272.54) scale(0.0077 0.01)" font-size="510" text-anchor="end">53</text>
<text transform="translate(400.65 252.43) scale(0.0077 0.01)" font-size="510" text-anchor="end">38</text>
<text transform="translate(409.95 301.74) scale(0.0077 0.01)" font-size="510" text-anchor="end">74</text>
<text transform="translate(405.65 292.25) scale(0.0077 0.01)" font-size="510" text-anchor="end">82</text>
<text transform="translate(401.65 286.77) scale(0.0077 0.01)" font-size="510" text-anchor="end">34</text>
<text transform="translate(397.65 267.5) scale(0.0077 0.01)" font-size="510" text-anchor="end">7</text>
<text transform="translate(405.65 332.58) scale(0.0077 0.01)" font-size="510" text-anchor="end">69</text>
<text transform="translate(411.65 360.14) scale(0.0077 0.01)" font-size="510" text-anchor="end">64</text>
<text transform="translate(409.65 355.76) scale(0.0077 0.01)" font-size="510" text-anchor="end">66</text>
<text transform="translate(407.65 350.65) scale(0.0077 0.01)" font-size="510" text-anchor="end">83</text>
<text transform="translate(403.65 343.71) scale(0.0077 0.01)" font-size="510" text-anchor="end">61</text>
<text transform="translate(401.65 335.87) scale(0.0077 0.01)" font-size="510" text-anchor="end">90</text>
<text transform="translate(398.65 329.02) scale(0.0077 0.01)" font-size="510" text-anchor="end">33</text>
<text transform="translate(394.15 322.68) scale(0.0077 0.01)" font-size="510" text-anchor="end">7</text>
<text transform="translate(393.65 302.9) scale(0.0077 0.01)" font-size="510" text-anchor="end">10</text>
<text transform="translate(409.75 377.66) scale(0.0077 0.01)" font-size="510" text-anchor="end">98</text>
<text transform="translate(400.15 373.28) scale(0.0077 0.01)" font-size="510" text-anchor="end">53</text>
<text transform="translate(389.65 335.99) scale(0.0077 0.01)" font-size="510" text-anchor="end">9</text>
<text transform="translate(400.15 412.7) scale(0.0077 0.01)" font-size="510" text-anchor="end">21</text>
<text transform="translate(398.15 408.32) scale(0.0077 0.01)" font-size="510" text-anchor="end">63</text>
<text transform="translate(394.55 403.21) scale(0.0077 0.01)" font-size="510" text-anchor="end">43</text>
<text transform="translate(389.95 392.08) scale(0.0077 0.01)" font-size="510" text-anchor="end">26</text>
<text transform="translate(388.15 361.93) scale(0.0077 0.01)" font-size="510" text-anchor="end">5</text>
<text transform="translate(385.75 389.6) scale(0.0077 0.01)" font-size="510" text-anchor="end">22</text>
<text transform="translate(374.15 406.35) scale(0.0077 0.01)" font-size="510" text-anchor="end">99</text>
<text transform="translate(350.15 417.64) scale(0.0077 0.01)" font-size="510" text-anchor="end">73</text>
</g>
<g stroke-width="0">
<text transform="translate(450 162.4) scale(0.00928 0.01)" font-size="517" fill="#4868d8"><tspan font-style="italic">Pseudomonas formosensis </tspan>JCM 18415<tspan dy="-180" font-size="290">T</tspan></text>
<text transform="translate(448.4 168.24) scale(0.00928 0.01)" font-size="517" fill="#4868d8"><tspan font-style="italic">Pseudomonas pertucinogena </tspan>ATCC 190<tspan dy="-180" font-size="290">T</tspan></text>
<text transform="translate(442.6 174.08) scale(0.00928 0.01)" font-size="517" fill="#4868d8"><tspan font-style="italic">Pseudomonas xiamenensis </tspan>C10-2<tspan dy="-180" font-size="290">T</tspan></text>
<text transform="translate(436.6 179.92) scale(0.00928 0.01)" font-size="517" fill="#4868d8"><tspan font-style="italic">Pseudomonas litoralis </tspan>2SM5<tspan dy="-180" font-size="290">T</tspan></text>
<text transform="translate(436.6 185.76) scale(0.00928 0.01)" font-size="517" fill="#4868d8"><tspan font-style="italic">Pseudomonas bauzanensis </tspan>DSM 22558<tspan dy="-180" font-size="290">T</tspan></text>
<text transform="translate(434.4 191.6) scale(0.00928 0.01)" font-size="517" fill="#4868d8"><tspan font-style="italic">Pseudomonas neustonica </tspan>SSM26<tspan dy="-180" font-size="290">T</tspan></text>
<text transform="translate(434 197.44) scale(0.00928 0.01)" font-size="517" fill="#4868d8"><tspan font-style="italic">Pseudomonas pelagia </tspan>CL-AP6<tspan dy="-180" font-size="290">T</tspan></text>
<text transform="translate(436 203.28) scale(0.00928 0.01)" font-size="517" fill="#4868d8"><tspan font-style="italic">Pseudomonas salina </tspan>XCD-X85<tspan dy="-180" font-size="290">T</tspan></text>
<text transform="translate(425 209.12) scale(0.00928 0.01)" font-size="517" fill="#4868d8"><tspan font-style="italic">Pseudomonas sabulinigri </tspan>JCM 14963<tspan dy="-180" font-size="290">T</tspan></text>
<text transform="translate(430 214.96) scale(0.00928 0.01)" font-size="517" fill="#4868d8"><tspan font-style="italic">Pseudomonas profundi </tspan>M5<tspan dy="-180" font-size="290">T</tspan></text>
<text transform="translate(424 220.8) scale(0.00928 0.01)" font-size="517" fill="#4868d8"><tspan font-style="italic">Pseudomonas xinjiangensis </tspan>NRRL B-51270<tspan dy="-180" font-size="290">T</tspan></text>
<text transform="translate(420.8 226.64) scale(0.00928 0.01)" font-size="517" fill="#4868d8"><tspan font-style="italic">Pseudomonas salegens </tspan>CECT 8338<tspan dy="-180" font-size="290">T</tspan></text>
<text transform="translate(413.4 232.48) scale(0.00928 0.01)" font-size="517" fill="#4868d8"><tspan font-style="italic">Pseudomonas phragmitis </tspan>S-6-2<tspan dy="-180" font-size="290">T</tspan></text>
<text transform="translate(416 238.32) scale(0.00928 0.01)" font-size="517" fill="#4868d8"><tspan font-style="italic">Pseudomonas pachastrellae </tspan>JCM 12285<tspan dy="-180" font-size="290">T</tspan></text>
<text transform="translate(416 244.16) scale(0.00928 0.01)" font-size="517" fill="#4868d8"><tspan font-style="italic">Pseudomonas abyssi </tspan>MT5<tspan dy="-180" font-size="290">T</tspan></text>
<text transform="translate(416 250) scale(0.00928 0.01)" font-size="517" fill="#4868d8"><tspan font-style="italic">Pseudomonas gallaeciensis </tspan>V113<tspan dy="-180" font-size="290">T</tspan></text>
<text transform="translate(417 255.84) scale(0.00928 0.01)" font-size="517" fill="#4868d8"><tspan font-style="italic">Pseudomonas aestusnigri </tspan>VGXO14<tspan dy="-180" font-size="290">T</tspan></text>
<text transform="translate(417 261.68) scale(0.00928 0.01)" font-size="517" fill="#4868d8"><tspan font-style="italic">Pseudomonas oceani </tspan>DSM 100277<tspan dy="-180" font-size="290">T</tspan></text>
<text transform="translate(416.6 267.52) scale(0.00928 0.01)" font-size="517" fill="#111" stroke="#111" stroke-width="3"><tspan font-style="italic">Pseudomonas pohangensis </tspan>DSM 17875<tspan dy="-180" font-size="290">T</tspan></text>
<text transform="translate(418.6 273.36) scale(0.00928 0.01)" font-size="517" fill="#9a3fd0"><tspan font-style="italic">Pseudomonas hussainii </tspan><tspan font-style="italic">JCM 19513</tspan><tspan dy="-180" font-size="290">T</tspan></text>
<text transform="translate(416.2 279.2) scale(0.00928 0.01)" font-size="517" fill="#111" stroke="#111" stroke-width="3"><tspan font-style="italic">Pseudomonas oryzihabitans </tspan>NBRC 102199<tspan dy="-180" font-size="290">T</tspan></text>
<text transform="translate(416.6 285.04) scale(0.00928 0.01)" font-size="517" fill="#c8a21e"><tspan font-style="italic">Pseudomonas duriflava </tspan>CGMCC 1.6858<tspan dy="-180" font-size="290">T</tspan></text>
<text transform="translate(413.8 290.88) scale(0.00928 0.01)" font-size="517" fill="#c8a21e"><tspan font-style="italic">Pseudomonas asuensis </tspan>CP 155-2<tspan dy="-180" font-size="290">T</tspan></text>
<text transform="translate(411 296.72) scale(0.00928 0.01)" font-size="517" fill="#c8a21e"><tspan font-style="italic">Pseudomonas luteola </tspan>NBRC 103146<tspan dy="-180" font-size="290">T</tspan></text>
<text transform="translate(412.5 302.56) scale(0.00928 0.01)" font-size="517" fill="#c8a21e"><tspan font-style="italic">Pseudomonas zeshuii </tspan>KACC 15471<tspan dy="-180" font-size="290">T</tspan></text>
<text transform="translate(398 308.4) scale(0.00928 0.01)" font-size="517" fill="#111" stroke="#111" stroke-width="3"><tspan font-style="italic">Pseudomonas straminea </tspan>JCM 2783<tspan dy="-180" font-size="290">T</tspan></text>
<text transform="translate(400 314.24) scale(0.00928 0.01)" font-size="517" fill="#111" stroke="#111" stroke-width="3"><tspan font-style="italic">Pseudomonas benzenivorans </tspan>DSM 8628<tspan dy="-180" font-size="290">T</tspan></text>
<text transform="translate(411 320.08) scale(0.00928 0.01)" font-size="517" fill="#111" stroke="#111" stroke-width="3"><tspan font-style="italic">Azomonas agilis </tspan>ATCC 7494<tspan dy="-180" font-size="290">T</tspan></text>
<text transform="translate(404.5 325.92) scale(0.00928 0.01)" font-size="517" fill="#111" stroke="#111" stroke-width="3"><tspan font-style="italic">Pseudomonas putida </tspan>NBRC 14164<tspan dy="-180" font-size="290">T</tspan></text>
<text transform="translate(407 331.76) scale(0.00928 0.01)" font-size="517" fill="#111" stroke="#111" stroke-width="3"><tspan font-style="italic">Pseudomonas asplenii </tspan>ATCC 23835<tspan dy="-180" font-size="290">T</tspan></text>
<text transform="translate(407 337.6) scale(0.00928 0.01)" font-size="517" fill="#111" stroke="#111" stroke-width="3"><tspan font-style="italic">Pseudomonas fuscovaginae </tspan>LMG 2158<tspan dy="-180" font-size="290">T</tspan></text>
<text transform="translate(414 343.44) scale(0.00928 0.01)" font-size="517" fill="#111" stroke="#111" stroke-width="3"><tspan font-style="italic">Pseudomonas fluorescens </tspan>NCTC10038<tspan dy="-180" font-size="290">T</tspan></text>
<text transform="translate(412.5 349.28) scale(0.00928 0.01)" font-size="517" fill="#111" stroke="#111" stroke-width="3"><tspan font-style="italic">Pseudomonas chlororaphis </tspan>subsp. <tspan font-style="italic">chlororaphis </tspan>DSM 50083<tspan dy="-180" font-size="290">T</tspan></text>
<text transform="translate(419.5 355.12) scale(0.00928 0.01)" font-size="517" fill="#111" stroke="#111" stroke-width="3"><tspan font-style="italic">Pseudomonas lutea </tspan>DSM 17257<tspan dy="-180" font-size="290">T</tspan></text>
<text transform="translate(414.5 360.96) scale(0.00928 0.01)" font-size="517" fill="#111" stroke="#111" stroke-width="3"><tspan font-style="italic">Pseudomonas syringae </tspan>DSM 10604<tspan dy="-180" font-size="290">T</tspan></text>
<text transform="translate(415 366.8) scale(0.00928 0.01)" font-size="517" fill="#1fa59a"><tspan font-style="italic">Pseudomonas caeni </tspan>HY14<tspan dy="-180" font-size="290">T</tspan></text>
<text transform="translate(417 372.64) scale(0.00928 0.01)" font-size="517" fill="#111" stroke="#111" stroke-width="3"><tspan font-style="italic">Oblitimonas alkaliphila </tspan>B4199<tspan dy="-180" font-size="290">T</tspan></text>
<text transform="translate(430 378.48) scale(0.00928 0.01)" font-size="517" fill="#111" stroke="#111" stroke-width="3"><tspan font-style="italic">Thiopseudomonas denitrificans </tspan>X2<tspan dy="-180" font-size="290">T</tspan></text>
<text transform="translate(393.6 384.32) scale(0.00928 0.01)" font-size="517" fill="#111" stroke="#111" stroke-width="3"><tspan font-style="italic">Pseudomonas oleovorans </tspan>subsp. <tspan font-style="italic">oleovorans </tspan>DSM 1045<tspan dy="-180" font-size="290">T</tspan></text>
<text transform="translate(398 390.16) scale(0.00928 0.01)" font-size="517" fill="#111" stroke="#111" stroke-width="3"><tspan font-style="italic">Pseudomonas stutzeri </tspan>CGMCC 1.18003<tspan dy="-180" font-size="290">T</tspan></text>
<text transform="translate(405.6 396) scale(0.00928 0.01)" font-size="517" fill="#111" stroke="#111" stroke-width="3"><tspan font-style="italic">Pseudomonas anguilliseptica </tspan>DSM 12111<tspan dy="-180" font-size="290">T</tspan></text>
<text transform="translate(401.6 401.84) scale(0.00928 0.01)" font-size="517" fill="#111" stroke="#111" stroke-width="3"><tspan font-style="italic">Pseudomonas aeruginosa </tspan>DSM 50071<tspan dy="-180" font-size="290">T</tspan></text>
<text transform="translate(411 407.68) scale(0.00928 0.01)" font-size="517" fill="#111" stroke="#111" stroke-width="3"><tspan font-style="italic">Pseudomonas linyingensis </tspan>LMG 25967<tspan dy="-180" font-size="290">T</tspan></text>
<text transform="translate(408.6 413.52) scale(0.00928 0.01)" font-size="517" fill="#111" stroke="#111" stroke-width="3"><tspan font-style="italic">Pseudomonas resinovorans </tspan>DSM 21078<tspan dy="-180" font-size="290">T</tspan></text>
<text transform="translate(394 419.36) scale(0.00928 0.01)" font-size="517" fill="#111" stroke="#111" stroke-width="3"><tspan font-style="italic">Azotobacter chroococcum </tspan>DSM 2286<tspan dy="-180" font-size="290">T</tspan></text>
<text transform="translate(407 425.2) scale(0.00928 0.01)" font-size="517" fill="#111" stroke="#111" stroke-width="3"><tspan font-style="italic">Entomomonas moraniae </tspan>QZS01<tspan dy="-180" font-size="290">T</tspan></text>
<text transform="translate(391.6 431.04) scale(0.00928 0.01)" font-size="517" fill="#111" stroke="#111" stroke-width="3"><tspan font-style="italic">Permianibacter aggregans </tspan>HW001<tspan dy="-180" font-size="290">T</tspan></text>
<text transform="translate(412 436.88) scale(0.00928 0.01)" font-size="517" fill="#111" stroke="#111" stroke-width="3"><tspan font-style="italic">Rugamonas rubra </tspan>ATCC 43154<tspan dy="-180" font-size="290">T</tspan></text>
<text transform="translate(358 442.72) scale(0.00928 0.01)" font-size="517" fill="#111" stroke="#111" stroke-width="3"><tspan font-style="italic">Escherichia coli </tspan>ATCC 11775<tspan dy="-180" font-size="290">T</tspan></text>
</g>
<g fill="#000" stroke="#000" stroke-width="5"><text transform="translate(393.1 287.4) scale(0.0077 0.01)" font-size="510" text-anchor="end">0</text></g>
<text transform="translate(394 163) scale(0.01 0.01)" font-size="1050" font-weight="bold" fill="#000">c</text>
<path d="M332.4 447.6H345.6M332.4 446.6V448.6M345.6 446.6V448.6" stroke="#2a2a2a" stroke-width="0.42" fill="none"/>
<text transform="translate(340.6 455.6) scale(0.0082 0.01)" font-size="480" text-anchor="middle" fill="#111">0.020</text>
</svg></body></html>
